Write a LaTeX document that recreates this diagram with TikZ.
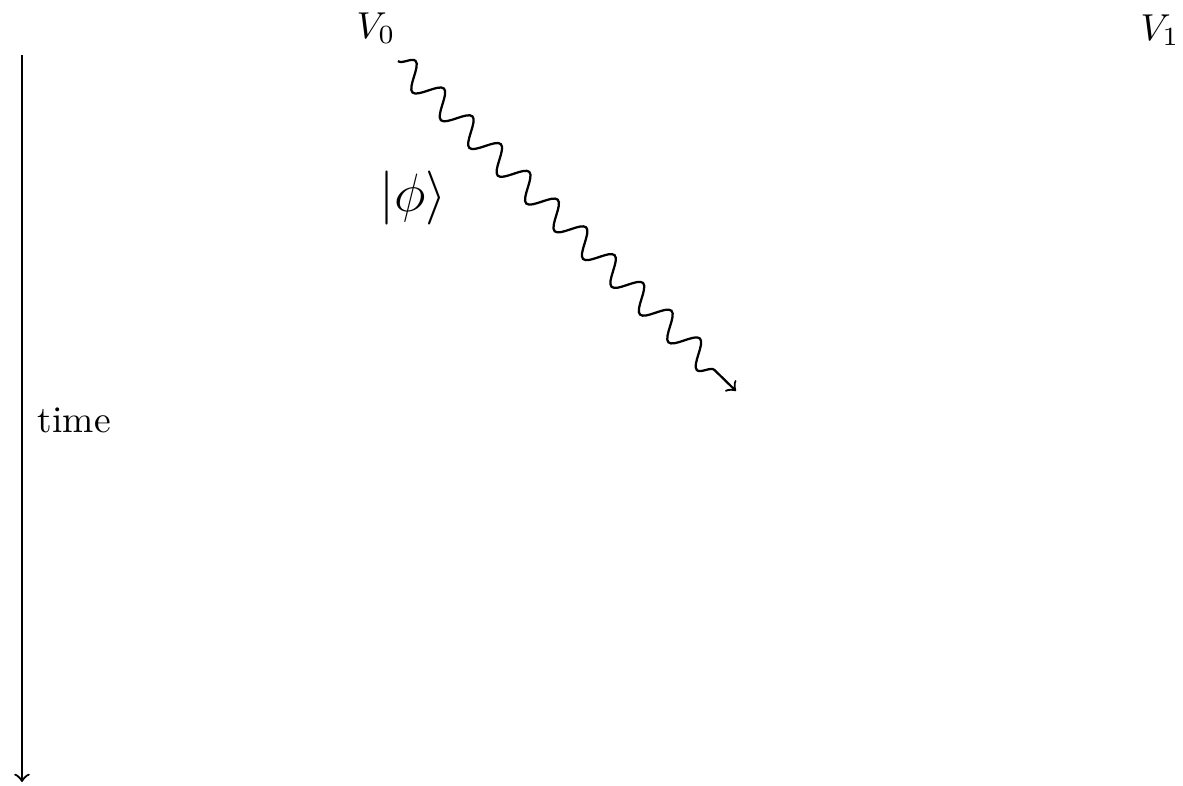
\documentclass[tikz,border=0pt]{standalone}
\usetikzlibrary{decorations.pathmorphing}
\begin{document}
\begin{tikzpicture}[x=0.26667pt,y=-0.26667pt,
  axisline/.style={line width=0.6pt,->},
  wavy/.style={line width=0.6pt,->,decorate,decoration={snake,segment length=10.6pt,amplitude=3.3pt,post length=1.1mm}},
  lbl/.style={inner sep=0pt,anchor=base}]
\useasboundingbox (0,0) rectangle (1183,785);
\coordinate (ttop) at (22,55);
\coordinate (tbot) at (22,782);
\draw[axisline] (ttop) -- (tbot);
\node[lbl,anchor=base west] (time) at (37,432) {time};
\node[lbl] (v0) at (376,38) {$V_0$};
\node[lbl] (v1) at (1160,40) {$V_1$};
\node (phi) at (413,198) {\Large$|\phi\rangle$};
\coordinate (ws) at (398,61);
\coordinate (we) at (736,391);
\draw[wavy] (ws) -- (we);
\end{tikzpicture}
\end{document}
